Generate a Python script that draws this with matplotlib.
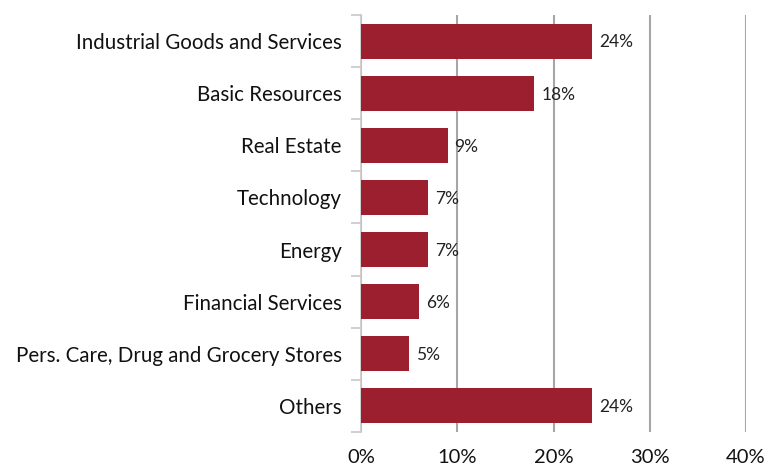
import numpy as np #importing the numpy library
import matplotlib
matplotlib.use('Agg') #no display available
import matplotlib.pyplot as plt #importing the matplotlib library

#### DATA
categories = ['Industrial Goods and Services', 'Basic Resources', 'Real Estate', 'Technology',
              'Energy', 'Financial Services', 'Pers. Care, Drug and Grocery Stores', 'Others']
weights = [24, 18, 9, 7, 7, 6, 5, 24] #percent of portfolio
x_ticks = [0, 10, 20, 30, 40]

bar_color = '#9B1F2F'
plt.rcParams['font.family'] = ['Lato', 'DejaVu Sans']

fig = plt.figure(figsize=(7.68, 4.69), dpi=100)
ax = fig.add_axes([361 / 768, 1 - 432 / 469, (746 - 361) / 768, (432 - 15) / 469])

y = np.arange(len(categories))
ax.barh(y, weights, height=0.67, color=bar_color, zorder=3)
for yi, w in zip(y, weights):
    ax.annotate(f'{w}%', (w, yi), xytext=(5, -1), textcoords='offset points',
                va='center', ha='left', fontsize=12.5, color='#222222')

ax.set_ylim(len(categories) - 0.5, -0.5)
ax.set_xlim(0, 40)
ax.set_yticks(y)
ax.set_yticklabels(categories, fontsize=14.8, color='#111111')
ax.set_yticks(np.arange(-0.5, len(categories)), minor=True)
ax.tick_params(axis='y', which='major', length=0, pad=14)
ax.tick_params(axis='y', which='minor', length=7, width=1.2, color='#c8c8c8')

ax.set_xticks(x_ticks)
ax.set_xticklabels([f'{t}%' for t in x_ticks], fontsize=14.5, color='#111111')
ax.tick_params(axis='x', length=0, pad=12)
ax.grid(axis='x', color='#a6a6a6', linewidth=1.5, zorder=0)

for s in ['top', 'right', 'bottom']:
    ax.spines[s].set_visible(False)
ax.spines['left'].set_color('#c8c8c8')
ax.spines['left'].set_linewidth(1.2)

fig.savefig('out.png', dpi=100)
